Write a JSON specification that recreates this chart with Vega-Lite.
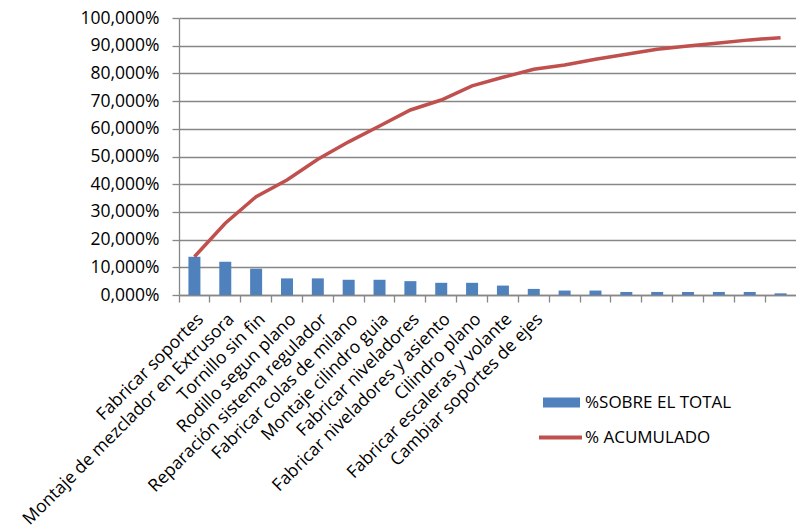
{
  "$schema": "https://vega.github.io/schema/vega-lite/v6.json",
  "width": 617,
  "height": 277,
  "autosize": "none",
  "padding": {"left": 179, "top": 18, "right": 0, "bottom": 234},
  "background": "white",
  "config": {
    "view": {"stroke": null},
    "font": "Open Sans"
  },
  "data": {
    "values": [
      {"tarea": "Fabricar soportes", "total": 0.138, "acumulado": 0.138},
      {"tarea": "Montaje de mezclador en Extrusora", "total": 0.120, "acumulado": 0.259},
      {"tarea": "Tornillo sin fin", "total": 0.095, "acumulado": 0.355},
      {"tarea": "Rodillo segun plano", "total": 0.060, "acumulado": 0.415},
      {"tarea": "Reparación sistema regulador", "total": 0.060, "acumulado": 0.490},
      {"tarea": "Fabricar colas de milano", "total": 0.055, "acumulado": 0.553},
      {"tarea": "Montaje cilindro guia", "total": 0.055, "acumulado": 0.610},
      {"tarea": "Fabricar niveladores", "total": 0.050, "acumulado": 0.668},
      {"tarea": "Fabricar niveladores y asiento", "total": 0.044, "acumulado": 0.704},
      {"tarea": "Cilindro plano", "total": 0.044, "acumulado": 0.755},
      {"tarea": "Fabricar escaleras y volante", "total": 0.034, "acumulado": 0.786},
      {"tarea": "Cambiar soportes de ejes", "total": 0.022, "acumulado": 0.815},
      {"tarea": " ", "total": 0.016, "acumulado": 0.830},
      {"tarea": "  ", "total": 0.016, "acumulado": 0.851},
      {"tarea": "   ", "total": 0.011, "acumulado": 0.869},
      {"tarea": "    ", "total": 0.011, "acumulado": 0.887},
      {"tarea": "     ", "total": 0.011, "acumulado": 0.899},
      {"tarea": "      ", "total": 0.011, "acumulado": 0.910},
      {"tarea": "       ", "total": 0.011, "acumulado": 0.921},
      {"tarea": "        ", "total": 0.006, "acumulado": 0.929}
    ]
  },
  "layer": [
    {
      "mark": {"type": "bar", "size": 12},
      "encoding": {
        "x": {
          "field": "tarea",
          "type": "nominal",
          "sort": null,
          "scale": {"paddingInner": 0, "paddingOuter": 0},
          "axis": {
            "orient": "bottom",
            "title": null,
            "labels": false,
            "bandPosition": 0,
            "tickSize": 7,
            "tickColor": "#878787",
            "tickWidth": 1.3,
            "domainColor": "#878787",
            "domainWidth": 1.3,
            "grid": false
          }
        },
        "y": {
          "field": "total",
          "type": "quantitative",
          "scale": {"domain": [0, 1]},
          "axis": {
            "title": null,
            "values": [0, 0.1, 0.2, 0.3, 0.4, 0.5, 0.6, 0.7, 0.8, 0.9, 1],
            "labelExpr": "replace(format(datum.value, '.3%'), '.', ',')",
            "labelFontSize": 17.5,
            "labelColor": "#000000",
            "labelPadding": 13,
            "labelOverlap": false,
            "tickSize": 7,
            "tickColor": "#878787",
            "tickWidth": 1.3,
            "domainColor": "#878787",
            "domainWidth": 1.3,
            "grid": true,
            "gridColor": "#878787",
            "gridWidth": 1.3
          }
        },
        "fill": {
          "datum": "%SOBRE EL TOTAL",
          "scale": {"range": ["#4F81BD"]},
          "legend": {
            "title": null,
            "orient": "none",
            "legendX": 364,
            "legendY": 366,
            "symbolType": "M-1,-0.27H1V0.27H-1Z",
            "symbolSize": 1369,
            "symbolStrokeWidth": 0,
            "labelOffset": 5,
            "labelFontSize": 17,
            "labelColor": "#000000"
          }
        }
      }
    },
    {
      "mark": {"type": "line", "strokeWidth": 3.5},
      "encoding": {
        "x": {
          "field": "tarea",
          "type": "nominal",
          "sort": null,
          "axis": {
            "orient": "bottom",
            "title": null,
            "ticks": false,
            "domain": false,
            "grid": false,
            "labelAngle": -45,
            "labelFontSize": 17.5,
            "labelColor": "#000000",
            "labelPadding": 15,
            "labelLimit": 500
          }
        },
        "y": {
          "field": "acumulado",
          "type": "quantitative",
          "axis": {
            "title": null,
            "values": [0, 0.1, 0.2, 0.3, 0.4, 0.5, 0.6, 0.7, 0.8, 0.9, 1],
            "labelExpr": "replace(format(datum.value, '.3%'), '.', ',')",
            "labelFontSize": 17.5,
            "labelColor": "#000000",
            "labelPadding": 13,
            "labelOverlap": false,
            "tickSize": 7,
            "tickColor": "#878787",
            "tickWidth": 1.3,
            "domainColor": "#878787",
            "domainWidth": 1.3,
            "grid": true,
            "gridColor": "#878787",
            "gridWidth": 1.3
          }
        },
        "stroke": {
          "datum": "% ACUMULADO",
          "scale": {"range": ["#C0504D"]},
          "legend": {
            "title": null,
            "orient": "none",
            "legendX": 358,
            "legendY": 396,
            "symbolType": "stroke",
            "symbolSize": 1849,
            "symbolStrokeWidth": 4,
            "labelOffset": 1,
            "labelFontSize": 17,
            "labelColor": "#000000"
          }
        }
      }
    }
  ],
  "resolve": {"axis": {"x": "independent"}}
}
